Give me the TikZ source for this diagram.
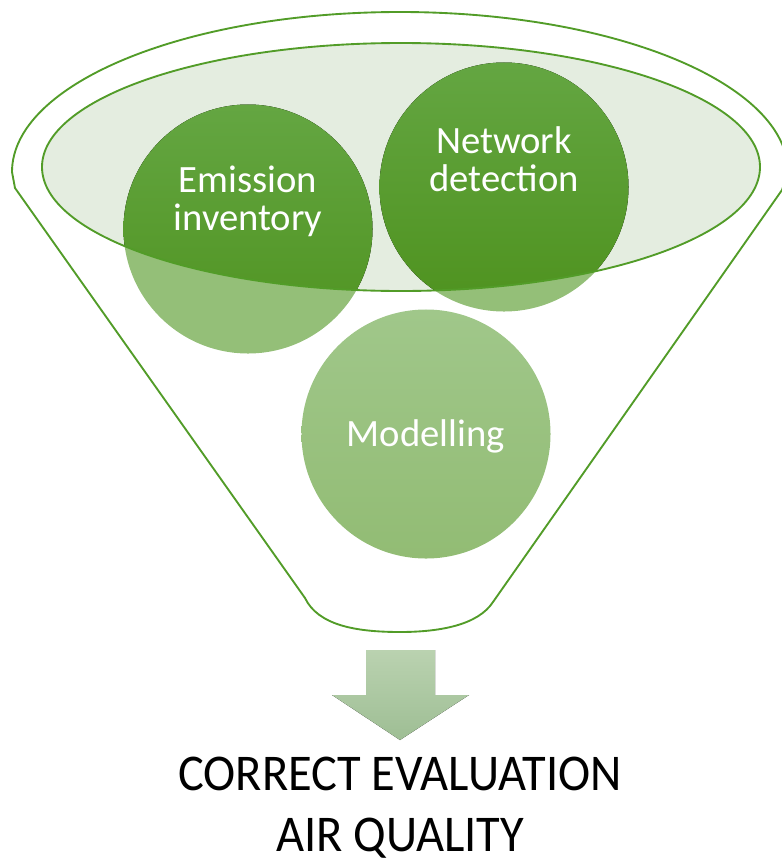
\documentclass[tikz,border=0pt]{standalone}
\usepackage{fontspec}
\setmainfont{Carlito}
\newfontfamily\capfont[FakeStretch=0.94]{Carlito}
\definecolor{entonnoir}{RGB}{82,156,40}
\definecolor{fond}{RGB}{228,237,224}
\definecolor{foncehaut}{RGB}{100,166,66}
\definecolor{foncebas}{RGB}{78,146,30}
\definecolor{pale}{RGB}{148,191,120}
\definecolor{palehaut}{RGB}{160,199,138}
\definecolor{palebas}{RGB}{146,188,116}
\definecolor{flechehaut}{RGB}{186,210,176}
\definecolor{flechebas}{RGB}{158,190,148}

\begin{document}
\begin{tikzpicture}[x=0.03cm,y=-0.03cm,
  boule/.style={circle,minimum size=7.47cm,inner sep=0pt},
  etiquette/.style={text=white,align=center,font=\fontsize{33}{32.4}\selectfont}]
\useasboundingbox (0,0) rectangle (782,864);

% entonnoir
\draw[entonnoir,line width=1.6pt] (305,598) -- (15,188) -- (12,172) arc[start angle=180,end angle=360,x radius=388,y radius=160] -- (782,190) -- (493,602) .. controls (478,625) and (440,632) .. (400,632) .. controls (355,632) and (318,625) .. (305,598);
\fill[fond] (401,167) ellipse[x radius=359,y radius=124];

% cercles
\node[boule,fill=pale] (emis) at (248,229) {};
\node[boule,fill=pale] (reseau) at (504,187) {};
\node[boule,top color=palehaut,bottom color=palebas] (modele) at (426,434) {};
\begin{scope}
\clip (401,167) ellipse[x radius=359,y radius=124];
\fill[top color=foncehaut,bottom color=foncebas] (emis.center) circle[radius=124.5];
\fill[top color=foncehaut,bottom color=foncebas] (reseau.center) circle[radius=124.5];
\end{scope}
\draw[entonnoir,line width=1.6pt] (401,167) ellipse[x radius=359,y radius=124];

\node[etiquette] (emistxt) at (248,201) {Emission\\inventory};
\node[etiquette] (reseautxt) at (504,159) {Network\\detection};
\node[etiquette] (modeletxt) at (426,436) {Modelling};

% fleche
\fill[top color=flechehaut,bottom color=flechebas] (366,650) -- (435,650) -- (435,695) -- (469,695) -- (400,740) -- (332,695) -- (366,695) -- cycle;

\node[align=center,inner sep=0pt,font=\capfont\fontsize{44}{52}\selectfont] (bilan) at (400,808) {CORRECT EVALUATION\\AIR QUALITY};
\end{tikzpicture}
\end{document}
